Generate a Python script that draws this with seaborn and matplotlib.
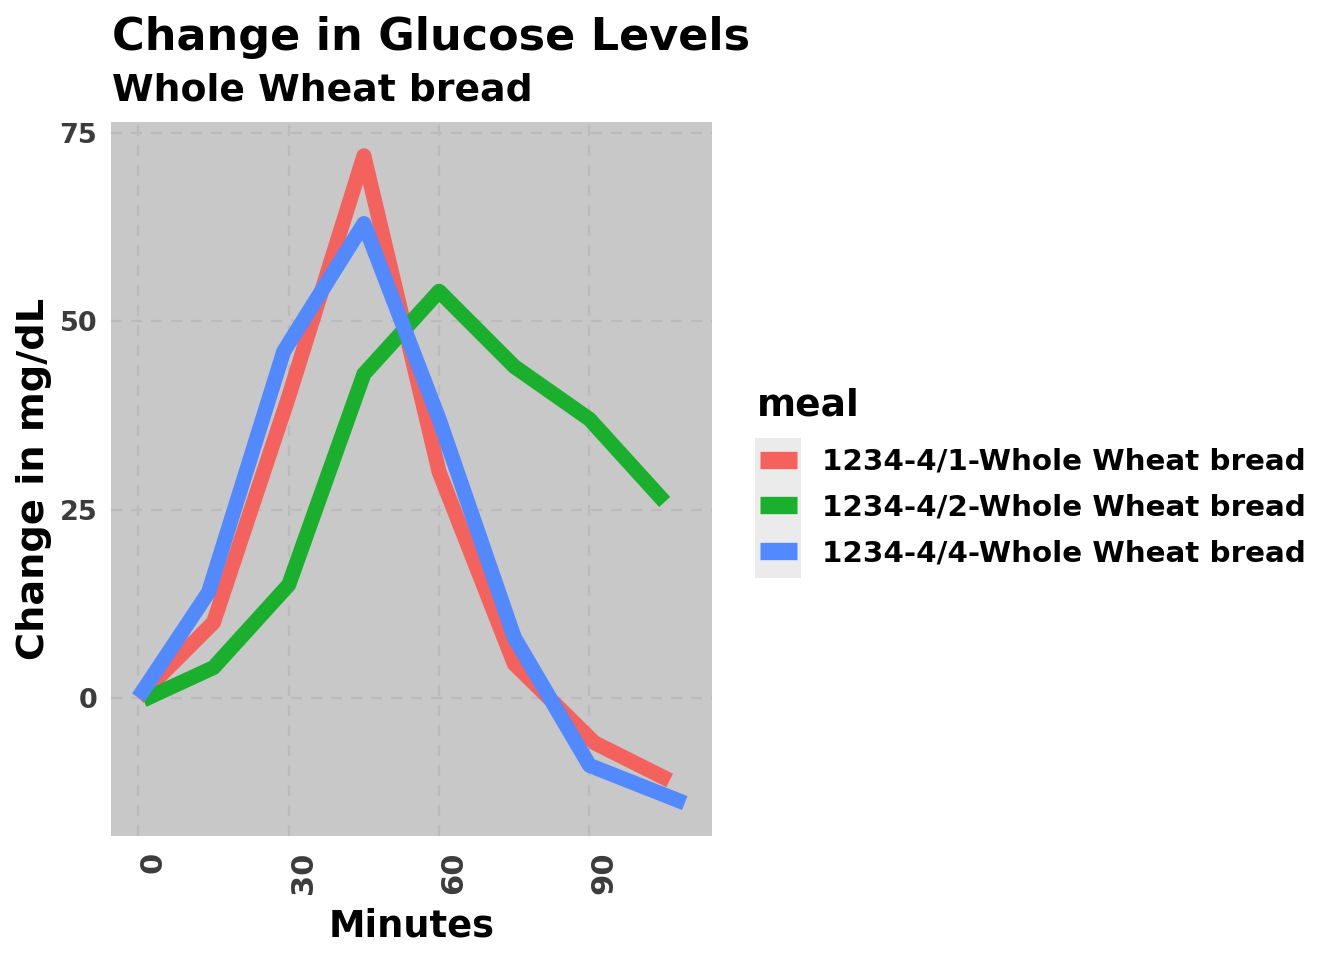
import pandas as pd
import numpy as np
import matplotlib
matplotlib.use("Agg")
import matplotlib.pyplot as plt
import seaborn as sns
from matplotlib.lines import Line2D
from matplotlib.patches import Rectangle

# ----------------------------------------------------------------------
# DATA: glucose change (mg/dL) after whole wheat bread, per meal
# ----------------------------------------------------------------------
meals = [
    "1234-4/1-Whole Wheat bread",
    "1234-4/2-Whole Wheat bread",
    "1234-4/4-Whole Wheat bread",
]
minutes_1 = [0, 15, 30, 45, 60, 75, 91, 106]
change_1 = [0, 10, 40, 72, 30, 4.5, -6, -11]
minutes_2 = [1, 15, 30, 45, 60, 75, 90, 105]
change_2 = [-0.3, 4, 15, 43, 54, 44, 37, 26]
minutes_4 = [0, 14, 29, 45, 60, 75, 90, 109]
change_4 = [0, 14, 46, 63, 37, 8, -9, -14]

x_ticks = [0, 30, 60, 90]
y_ticks = [0, 25, 50, 75]
palette = ["#F4625E", "#1AB02E", "#5289FF"]

df = pd.concat([
    pd.DataFrame({"minutes": minutes_1, "change": change_1, "meal": meals[0]}),
    pd.DataFrame({"minutes": minutes_2, "change": change_2, "meal": meals[1]}),
    pd.DataFrame({"minutes": minutes_4, "change": change_4, "meal": meals[2]}),
])

# ----------------------------------------------------------------------
# PLOT
# ----------------------------------------------------------------------
sns.set_style("darkgrid", {
    "axes.facecolor": "#C8C8C8",
    "grid.color": "#BBBBBB",
    "grid.linestyle": (0, (5, 4)),
    "text.color": "black",
    "axes.labelcolor": "black",
})
plt.rcParams["font.family"] = ["DejaVu Sans"]
plt.rcParams["font.weight"] = "bold"

fig = plt.figure(figsize=(13.44, 9.6), dpi=100)
ax = fig.add_axes([0.0826, 0.129, 0.4472, 0.744])

sns.lineplot(
    data=df, x="minutes", y="change", hue="meal", hue_order=meals,
    palette=palette, linewidth=10.8, sort=False, estimator=None,
    legend=False, ax=ax,
)
for line in ax.get_lines():
    line.set_solid_capstyle("butt")
    line.set_solid_joinstyle("round")

ax.set_xlim(-5.45, 114.45)
ax.set_ylim(-18.4, 76.5)
ax.set_xticks(x_ticks)
ax.set_yticks(y_ticks)
ax.grid(True, linewidth=1.6)
for s in ax.spines.values():
    s.set_visible(False)

ax.tick_params(axis="both", length=6, width=1.5, color="#333333", colors="#3C3C3C")
ax.tick_params(axis="x", labelsize=22, labelrotation=90, pad=5)
ax.tick_params(axis="y", labelsize=19.5, pad=4)
for lbl in ax.get_xticklabels():
    lbl.set_fontweight("bold")
    lbl.set_va("top")
    lbl.set_ha("left")
for lbl in ax.get_yticklabels():
    lbl.set_fontweight("bold")

ax.set_xlabel("Minutes", fontsize=26.5, fontweight="bold", labelpad=10)
ax.set_ylabel("Change in mg/dL", fontsize=27.5, fontweight="bold", labelpad=5)

fig.text(0.083, 0.948, "Change in Glucose Levels", fontsize=32, fontweight="bold",
         ha="left", va="baseline")
fig.text(0.083, 0.895, "Whole Wheat bread", fontsize=27.2, fontweight="bold",
         ha="left", va="baseline")

# legend, ggplot style with grey key background
fig.text(757 / 1344, 1 - 415 / 960, "meal", fontsize=27, fontweight="bold",
         ha="left", va="baseline")
handles = [Line2D([0], [0], color=c, linewidth=12.5, solid_capstyle="butt") for c in palette]
leg = fig.legend(
    handles, meals, loc="upper left",
    bbox_to_anchor=(760 / 1344, 1 - 448 / 960), frameon=False,
    fontsize=21.2, handlelength=1.26, handletextpad=0.85,
    labelspacing=0.6, borderaxespad=0, borderpad=0,
)
for t in leg.get_texts():
    t.set_fontweight("bold")

fig.patches.append(Rectangle((755 / 1344, 1 - 578 / 960), 46 / 1344, 140 / 960,
                             transform=fig.transFigure, facecolor="#EBEBEB",
                             edgecolor="none", zorder=0))

plt.savefig("out.png", dpi=100)
plt.close()
